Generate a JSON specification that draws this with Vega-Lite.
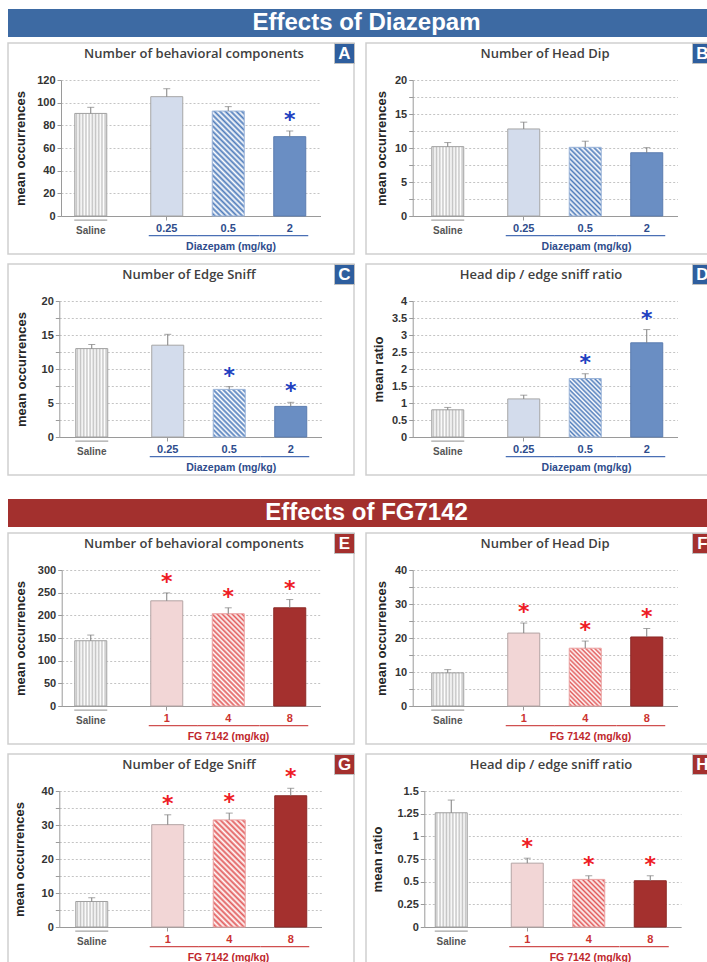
{
"$schema":"https://vega.github.io/schema/vega-lite/v6.json",
"padding":{"left":7,"top":9,"right":0,"bottom":0},
"spacing":23,
"config":{
 "view":{"stroke":"#cfcfcf","strokeWidth":1.5},
 "title":{"font":"Open Sans","fontSize":13,"fontWeight":600,"color":"#404040","offset":-19,"anchor":"middle"},
 "axis":{"domainColor":"#9a9a9a","tickColor":"#9a9a9a","tickSize":4,"labelFont":"Liberation Sans","labelFontWeight":"bold","labelFontSize":11,"titleFont":"Liberation Sans","titleFontWeight":"bold","titleBaseline":"middle"},
 "axisY":{"gridColor":"#c4c4c4","gridDash":[2,2],"labelColor":"#333333","labelPadding":2,"titleFontSize":13,"titleColor":"#262626"},
 "axisX":{"labelAngle":0,"tickOffset":-38,"titleFontSize":10.5,"titleY":30}
},
"vconcat":[
{"spacing":3,"vconcat":[
 {"width":717,"height":28,"view":{"fill":"#3d6aa3","stroke":null},"data":{"values":[{"t":"Effects of Diazepam"}]},"mark":{"type":"text","font":"Liberation Sans","fontWeight":"bold","fontSize":24,"color":"#ffffff","baseline":"middle"},"encoding":{"text":{"field":"t","type":"nominal"},"x":{"field":"t","type":"nominal","axis":null},"y":{"field":"t","type":"nominal","axis":null}}},
 {"spacing":6,"vconcat":[
  {"spacing":12,"bounds":"flush","hconcat":[
   {"width":346,"height":211,"title":{"text":"Number of behavioral components","dx":13},
    "data":{"values":[{"dose":"Saline","mean":90.5,"hi":95.9},{"dose":"0.25","mean":105.3,"hi":112.3},{"dose":"0.5","mean":92.6,"hi":96.5},{"dose":"2","mean":70,"hi":75,"sig":1}]},
    "encoding":{
     "x":{"field":"dose","type":"nominal","title":"Diazepam (mg/kg)","scale":{"domain":["Saline","0.25","0.5","2"],"range":[53,312.5],"paddingInner":0,"paddingOuter":0.1098,"align":1},
      "axis":{"offset":-38,"titleX":222.5,"titleColor":"#2e4c8c","labelColor":{"condition":{"test":"datum.value=='Saline'","value":"#555555"},"value":"#2e4c8c"},"labelFontSize":{"condition":{"test":"datum.value=='Saline'","value":10},"value":11},"labelOffset":{"condition":{"test":"datum.value=='Saline'","value":-14.5},"value":0},"labelPadding":{"condition":{"test":"datum.value=='Saline'","value":5},"value":2},"tickOpacity":{"condition":{"test":"datum.value=='0.25'","value":1},"value":0}}},
     "y":{"field":"mean","type":"quantitative","title":"mean occurrences","scale":{"domain":[0,120],"range":[173,37],"nice":false},"axis":{"offset":-53,"titleX":-41,"values":[0,20,40,60,80,100,120]}}},
    "layer":[
     {"transform":[{"filter":"datum.dose=='Saline'"}],"mark":{"type":"bar","width":32,"xOffset":-14.5,"stroke":"#a0a0a0","fill":{"gradient":"linear","x1":0,"y1":0,"x2":1,"y2":0,"stops":[{"offset":0,"color":"#fff"},{"offset":0.05,"color":"#c4c4c4"},{"offset":0.1,"color":"#fff"},{"offset":0.15,"color":"#c4c4c4"},{"offset":0.2,"color":"#fff"},{"offset":0.25,"color":"#c4c4c4"},{"offset":0.3,"color":"#fff"},{"offset":0.35,"color":"#c4c4c4"},{"offset":0.4,"color":"#fff"},{"offset":0.45,"color":"#c4c4c4"},{"offset":0.5,"color":"#fff"},{"offset":0.55,"color":"#c4c4c4"},{"offset":0.6,"color":"#fff"},{"offset":0.65,"color":"#c4c4c4"},{"offset":0.7,"color":"#fff"},{"offset":0.75,"color":"#c4c4c4"},{"offset":0.8,"color":"#fff"},{"offset":0.85,"color":"#c4c4c4"},{"offset":0.9,"color":"#fff"},{"offset":0.95,"color":"#c4c4c4"},{"offset":1,"color":"#fff"}]}}},
     {"transform":[{"filter":"datum.dose=='0.25'||datum.dose=='2'"}],"mark":{"type":"bar","width":32},"encoding":{"fill":{"condition":{"test":"datum.dose=='2'","value":"#6a8ec3"},"value":"#d3dcec"},"stroke":{"condition":{"test":"datum.dose=='2'","value":"#5b7db0"},"value":"#a6a6a6"}}},
     {"transform":[{"filter":"datum.dose=='0.5'"}],"mark":{"type":"bar","width":32,"stroke":"#9ab3d8","fill":{"gradient":"linear","x1":0,"y1":1,"x2":0.364,"y2":-0.1939,"stops":[{"offset":0,"color":"#fff"},{"offset":0.02,"color":"#4f7cbb"},{"offset":0.04,"color":"#fff"},{"offset":0.06,"color":"#4f7cbb"},{"offset":0.08,"color":"#fff"},{"offset":0.1,"color":"#4f7cbb"},{"offset":0.12,"color":"#fff"},{"offset":0.14,"color":"#4f7cbb"},{"offset":0.16,"color":"#fff"},{"offset":0.18,"color":"#4f7cbb"},{"offset":0.2,"color":"#fff"},{"offset":0.22,"color":"#4f7cbb"},{"offset":0.24,"color":"#fff"},{"offset":0.26,"color":"#4f7cbb"},{"offset":0.28,"color":"#fff"},{"offset":0.3,"color":"#4f7cbb"},{"offset":0.32,"color":"#fff"},{"offset":0.34,"color":"#4f7cbb"},{"offset":0.36,"color":"#fff"},{"offset":0.38,"color":"#4f7cbb"},{"offset":0.4,"color":"#fff"},{"offset":0.42,"color":"#4f7cbb"},{"offset":0.44,"color":"#fff"},{"offset":0.46,"color":"#4f7cbb"},{"offset":0.48,"color":"#fff"},{"offset":0.5,"color":"#4f7cbb"},{"offset":0.52,"color":"#fff"},{"offset":0.54,"color":"#4f7cbb"},{"offset":0.56,"color":"#fff"},{"offset":0.58,"color":"#4f7cbb"},{"offset":0.6,"color":"#fff"},{"offset":0.62,"color":"#4f7cbb"},{"offset":0.64,"color":"#fff"},{"offset":0.66,"color":"#4f7cbb"},{"offset":0.68,"color":"#fff"},{"offset":0.7,"color":"#4f7cbb"},{"offset":0.72,"color":"#fff"},{"offset":0.74,"color":"#4f7cbb"},{"offset":0.76,"color":"#fff"},{"offset":0.78,"color":"#4f7cbb"},{"offset":0.8,"color":"#fff"},{"offset":0.82,"color":"#4f7cbb"},{"offset":0.84,"color":"#fff"},{"offset":0.86,"color":"#4f7cbb"},{"offset":0.88,"color":"#fff"},{"offset":0.9,"color":"#4f7cbb"},{"offset":0.92,"color":"#fff"},{"offset":0.94,"color":"#4f7cbb"},{"offset":0.96,"color":"#fff"},{"offset":0.98,"color":"#4f7cbb"},{"offset":1,"color":"#fff"}]}}},
     {"mark":{"type":"rule","color":"#7f7f7f","xOffset":{"expr":"datum.dose=='Saline'?-14.5:0"}},"encoding":{"y2":{"field":"hi"}}},
     {"mark":{"type":"tick","orient":"horizontal","size":7,"thickness":1,"color":"#7f7f7f","xOffset":{"expr":"datum.dose=='Saline'?-14.5:0"}},"encoding":{"y":{"field":"hi","type":"quantitative"}}},
     {"transform":[{"filter":"datum.sig"}],"mark":{"type":"text","text":"*","font":"DejaVu Sans","fontSize":22,"fontWeight":"bold","color":"#2040c0","baseline":"alphabetic","dy":-4},"encoding":{"y":{"field":"hi","type":"quantitative"}}},
     {"transform":[{"filter":"datum.dose=='0.5'"}],"mark":{"type":"bar","width":61.5,"color":"#4a6fb5"},"encoding":{"y":{"datum":-16.77,"type":"quantitative"},"y2":{"datum":-17.82}}},
     {"transform":[{"filter":"datum.dose=='0.25'||datum.dose=='2'"}],"mark":{"type":"bar","width":49,"color":"#4a6fb5","xOffset":{"expr":"datum.dose=='2'?-6:6.5"}},"encoding":{"y":{"datum":-16.77,"type":"quantitative"},"y2":{"datum":-17.82}}},
     {"transform":[{"filter":"datum.dose=='Saline'"}],"mark":{"type":"bar","width":33,"color":"#a6a6a6","xOffset":-14.5},"encoding":{"y":{"datum":-3.18,"type":"quantitative"},"y2":{"datum":-4.24}}},
     {"data":{"values":[{}]},"layer":[
      {"mark":{"type":"point","shape":"square","size":400,"filled":true,"fill":"#2e5e9e","stroke":"#c0c0c0","strokeWidth":1,"opacity":1,"xOffset":-9.5,"yOffset":10.5},"encoding":{"x":{"value":"width"},"y":{"value":0}}},
      {"mark":{"type":"text","text":"A","font":"Liberation Sans","fontSize":17,"fontWeight":"bold","color":"#ffffff","baseline":"middle","align":"center","dx":-9.5,"dy":11},"encoding":{"x":{"value":"width"},"y":{"value":0}}}
     ]}
    ]},
   {"width":346,"height":211,"title":{"text":"Number of Head Dip","dx":6},
    "data":{"values":[{"dose":"Saline","mean":10.2,"hi":10.8},{"dose":"0.25","mean":12.8,"hi":13.8},{"dose":"0.5","mean":10.1,"hi":11.0},{"dose":"2","mean":9.3,"hi":10.05}]},
    "encoding":{
     "x":{"field":"dose","type":"nominal","title":"Diazepam (mg/kg)","scale":{"domain":["Saline","0.25","0.5","2"],"range":[46.7,311.5],"paddingInner":0,"paddingOuter":0.1528,"align":1},
      "axis":{"offset":-38,"titleX":220,"titleColor":"#2e4c8c","labelColor":{"condition":{"test":"datum.value=='Saline'","value":"#555555"},"value":"#2e4c8c"},"labelFontSize":{"condition":{"test":"datum.value=='Saline'","value":10},"value":11},"labelOffset":{"condition":{"test":"datum.value=='Saline'","value":-14.5},"value":0},"labelPadding":{"condition":{"test":"datum.value=='Saline'","value":5},"value":2},"tickOpacity":{"condition":{"test":"datum.value=='0.25'","value":1},"value":0}}},
     "y":{"field":"mean","type":"quantitative","title":"mean occurrences","scale":{"domain":[0,20],"range":[173,37],"nice":false},"axis":{"offset":-46.7,"titleX":-31.7,"values":[0,2.5,5,7.5,10,12.5,15,17.5,20],"labelExpr":"datum.value % 5 == 0 ? datum.label : ''"}}},
    "layer":[
     {"transform":[{"filter":"datum.dose=='Saline'"}],"mark":{"type":"bar","width":32,"xOffset":-14.5,"stroke":"#a0a0a0","fill":{"gradient":"linear","x1":0,"y1":0,"x2":1,"y2":0,"stops":[{"offset":0,"color":"#fff"},{"offset":0.05,"color":"#c4c4c4"},{"offset":0.1,"color":"#fff"},{"offset":0.15,"color":"#c4c4c4"},{"offset":0.2,"color":"#fff"},{"offset":0.25,"color":"#c4c4c4"},{"offset":0.3,"color":"#fff"},{"offset":0.35,"color":"#c4c4c4"},{"offset":0.4,"color":"#fff"},{"offset":0.45,"color":"#c4c4c4"},{"offset":0.5,"color":"#fff"},{"offset":0.55,"color":"#c4c4c4"},{"offset":0.6,"color":"#fff"},{"offset":0.65,"color":"#c4c4c4"},{"offset":0.7,"color":"#fff"},{"offset":0.75,"color":"#c4c4c4"},{"offset":0.8,"color":"#fff"},{"offset":0.85,"color":"#c4c4c4"},{"offset":0.9,"color":"#fff"},{"offset":0.95,"color":"#c4c4c4"},{"offset":1,"color":"#fff"}]}}},
     {"transform":[{"filter":"datum.dose=='0.25'||datum.dose=='2'"}],"mark":{"type":"bar","width":32},"encoding":{"fill":{"condition":{"test":"datum.dose=='2'","value":"#6a8ec3"},"value":"#d3dcec"},"stroke":{"condition":{"test":"datum.dose=='2'","value":"#5b7db0"},"value":"#a6a6a6"}}},
     {"transform":[{"filter":"datum.dose=='0.5'"}],"mark":{"type":"bar","width":32,"stroke":"#9ab3d8","fill":{"gradient":"linear","x1":0,"y1":1,"x2":0.5613,"y2":-0.2045,"stops":[{"offset":0,"color":"#fff"},{"offset":0.025,"color":"#4f7cbb"},{"offset":0.05,"color":"#fff"},{"offset":0.075,"color":"#4f7cbb"},{"offset":0.1,"color":"#fff"},{"offset":0.125,"color":"#4f7cbb"},{"offset":0.15,"color":"#fff"},{"offset":0.175,"color":"#4f7cbb"},{"offset":0.2,"color":"#fff"},{"offset":0.225,"color":"#4f7cbb"},{"offset":0.25,"color":"#fff"},{"offset":0.275,"color":"#4f7cbb"},{"offset":0.3,"color":"#fff"},{"offset":0.325,"color":"#4f7cbb"},{"offset":0.35,"color":"#fff"},{"offset":0.375,"color":"#4f7cbb"},{"offset":0.4,"color":"#fff"},{"offset":0.425,"color":"#4f7cbb"},{"offset":0.45,"color":"#fff"},{"offset":0.475,"color":"#4f7cbb"},{"offset":0.5,"color":"#fff"},{"offset":0.525,"color":"#4f7cbb"},{"offset":0.55,"color":"#fff"},{"offset":0.575,"color":"#4f7cbb"},{"offset":0.6,"color":"#fff"},{"offset":0.625,"color":"#4f7cbb"},{"offset":0.65,"color":"#fff"},{"offset":0.675,"color":"#4f7cbb"},{"offset":0.7,"color":"#fff"},{"offset":0.725,"color":"#4f7cbb"},{"offset":0.75,"color":"#fff"},{"offset":0.775,"color":"#4f7cbb"},{"offset":0.8,"color":"#fff"},{"offset":0.825,"color":"#4f7cbb"},{"offset":0.85,"color":"#fff"},{"offset":0.875,"color":"#4f7cbb"},{"offset":0.9,"color":"#fff"},{"offset":0.925,"color":"#4f7cbb"},{"offset":0.95,"color":"#fff"},{"offset":0.975,"color":"#4f7cbb"},{"offset":1,"color":"#fff"}]}}},
     {"mark":{"type":"rule","color":"#7f7f7f","xOffset":{"expr":"datum.dose=='Saline'?-14.5:0"}},"encoding":{"y2":{"field":"hi"}}},
     {"mark":{"type":"tick","orient":"horizontal","size":7,"thickness":1,"color":"#7f7f7f","xOffset":{"expr":"datum.dose=='Saline'?-14.5:0"}},"encoding":{"y":{"field":"hi","type":"quantitative"}}},
     {"transform":[{"filter":"datum.dose=='0.5'"}],"mark":{"type":"bar","width":61.5,"color":"#4a6fb5"},"encoding":{"y":{"datum":-2.794,"type":"quantitative"},"y2":{"datum":-2.97}}},
     {"transform":[{"filter":"datum.dose=='0.25'||datum.dose=='2'"}],"mark":{"type":"bar","width":49,"color":"#4a6fb5","xOffset":{"expr":"datum.dose=='2'?-6:6.5"}},"encoding":{"y":{"datum":-2.794,"type":"quantitative"},"y2":{"datum":-2.97}}},
     {"transform":[{"filter":"datum.dose=='Saline'"}],"mark":{"type":"bar","width":33,"color":"#a6a6a6","xOffset":-14.5},"encoding":{"y":{"datum":-0.529,"type":"quantitative"},"y2":{"datum":-0.706}}},
     {"data":{"values":[{}]},"layer":[
      {"mark":{"type":"point","shape":"square","size":400,"filled":true,"fill":"#2e5e9e","stroke":"#c0c0c0","strokeWidth":1,"opacity":1,"xOffset":-9.5,"yOffset":10.5},"encoding":{"x":{"value":"width"},"y":{"value":0}}},
      {"mark":{"type":"text","text":"B","font":"Liberation Sans","fontSize":17,"fontWeight":"bold","color":"#ffffff","baseline":"middle","align":"center","dx":-9.5,"dy":11},"encoding":{"x":{"value":"width"},"y":{"value":0}}}
     ]}
    ]}
  ]},
  {"spacing":12,"bounds":"flush","hconcat":[
   {"width":346,"height":211,"title":{"text":"Number of Edge Sniff","dx":8},
    "data":{"values":[{"dose":"Saline","mean":13.0,"hi":13.6},{"dose":"0.25","mean":13.5,"hi":15.1},{"dose":"0.5","mean":7.0,"hi":7.4,"sig":1},{"dose":"2","mean":4.5,"hi":5.1,"sig":1}]},
    "encoding":{
     "x":{"field":"dose","type":"nominal","title":"Diazepam (mg/kg)","scale":{"domain":["Saline","0.25","0.5","2"],"range":[51.3,313.5],"paddingInner":0,"paddingOuter":0.1317,"align":1},
      "axis":{"offset":-38,"titleX":222.7,"titleColor":"#2e4c8c","labelColor":{"condition":{"test":"datum.value=='Saline'","value":"#555555"},"value":"#2e4c8c"},"labelFontSize":{"condition":{"test":"datum.value=='Saline'","value":10},"value":11},"labelOffset":{"condition":{"test":"datum.value=='Saline'","value":-14.5},"value":0},"labelPadding":{"condition":{"test":"datum.value=='Saline'","value":5},"value":2},"tickOpacity":{"condition":{"test":"datum.value=='0.25'","value":1},"value":0}}},
     "y":{"field":"mean","type":"quantitative","title":"mean occurrences","scale":{"domain":[0,20],"range":[173,37],"nice":false},"axis":{"offset":-51.3,"titleX":-38.3,"values":[0,2.5,5,7.5,10,12.5,15,17.5,20],"labelExpr":"datum.value % 5 == 0 ? datum.label : ''"}}},
    "layer":[
     {"transform":[{"filter":"datum.dose=='Saline'"}],"mark":{"type":"bar","width":32,"xOffset":-14.5,"stroke":"#a0a0a0","fill":{"gradient":"linear","x1":0,"y1":0,"x2":1,"y2":0,"stops":[{"offset":0,"color":"#fff"},{"offset":0.05,"color":"#c4c4c4"},{"offset":0.1,"color":"#fff"},{"offset":0.15,"color":"#c4c4c4"},{"offset":0.2,"color":"#fff"},{"offset":0.25,"color":"#c4c4c4"},{"offset":0.3,"color":"#fff"},{"offset":0.35,"color":"#c4c4c4"},{"offset":0.4,"color":"#fff"},{"offset":0.45,"color":"#c4c4c4"},{"offset":0.5,"color":"#fff"},{"offset":0.55,"color":"#c4c4c4"},{"offset":0.6,"color":"#fff"},{"offset":0.65,"color":"#c4c4c4"},{"offset":0.7,"color":"#fff"},{"offset":0.75,"color":"#c4c4c4"},{"offset":0.8,"color":"#fff"},{"offset":0.85,"color":"#c4c4c4"},{"offset":0.9,"color":"#fff"},{"offset":0.95,"color":"#c4c4c4"},{"offset":1,"color":"#fff"}]}}},
     {"transform":[{"filter":"datum.dose=='0.25'||datum.dose=='2'"}],"mark":{"type":"bar","width":32},"encoding":{"fill":{"condition":{"test":"datum.dose=='2'","value":"#6a8ec3"},"value":"#d3dcec"},"stroke":{"condition":{"test":"datum.dose=='2'","value":"#5b7db0"},"value":"#a6a6a6"}}},
     {"transform":[{"filter":"datum.dose=='0.5'"}],"mark":{"type":"bar","width":32,"stroke":"#9ab3d8","fill":{"gradient":"linear","x1":0,"y1":1,"x2":0.7743,"y2":-0.1518,"stops":[{"offset":0,"color":"#fff"},{"offset":0.03125,"color":"#4f7cbb"},{"offset":0.0625,"color":"#fff"},{"offset":0.09375,"color":"#4f7cbb"},{"offset":0.125,"color":"#fff"},{"offset":0.15625,"color":"#4f7cbb"},{"offset":0.1875,"color":"#fff"},{"offset":0.21875,"color":"#4f7cbb"},{"offset":0.25,"color":"#fff"},{"offset":0.28125,"color":"#4f7cbb"},{"offset":0.3125,"color":"#fff"},{"offset":0.34375,"color":"#4f7cbb"},{"offset":0.375,"color":"#fff"},{"offset":0.40625,"color":"#4f7cbb"},{"offset":0.4375,"color":"#fff"},{"offset":0.46875,"color":"#4f7cbb"},{"offset":0.5,"color":"#fff"},{"offset":0.53125,"color":"#4f7cbb"},{"offset":0.5625,"color":"#fff"},{"offset":0.59375,"color":"#4f7cbb"},{"offset":0.625,"color":"#fff"},{"offset":0.65625,"color":"#4f7cbb"},{"offset":0.6875,"color":"#fff"},{"offset":0.71875,"color":"#4f7cbb"},{"offset":0.75,"color":"#fff"},{"offset":0.78125,"color":"#4f7cbb"},{"offset":0.8125,"color":"#fff"},{"offset":0.84375,"color":"#4f7cbb"},{"offset":0.875,"color":"#fff"},{"offset":0.90625,"color":"#4f7cbb"},{"offset":0.9375,"color":"#fff"},{"offset":0.96875,"color":"#4f7cbb"},{"offset":1,"color":"#fff"}]}}},
     {"mark":{"type":"rule","color":"#7f7f7f","xOffset":{"expr":"datum.dose=='Saline'?-14.5:0"}},"encoding":{"y2":{"field":"hi"}}},
     {"mark":{"type":"tick","orient":"horizontal","size":7,"thickness":1,"color":"#7f7f7f","xOffset":{"expr":"datum.dose=='Saline'?-14.5:0"}},"encoding":{"y":{"field":"hi","type":"quantitative"}}},
     {"transform":[{"filter":"datum.sig"}],"mark":{"type":"text","text":"*","font":"DejaVu Sans","fontSize":22,"fontWeight":"bold","color":"#2040c0","baseline":"alphabetic","dy":-4},"encoding":{"y":{"field":"hi","type":"quantitative"}}},
     {"transform":[{"filter":"datum.dose=='0.5'"}],"mark":{"type":"bar","width":61.5,"color":"#4a6fb5"},"encoding":{"y":{"datum":-2.794,"type":"quantitative"},"y2":{"datum":-2.97}}},
     {"transform":[{"filter":"datum.dose=='0.25'||datum.dose=='2'"}],"mark":{"type":"bar","width":49,"color":"#4a6fb5","xOffset":{"expr":"datum.dose=='2'?-6:6.5"}},"encoding":{"y":{"datum":-2.794,"type":"quantitative"},"y2":{"datum":-2.97}}},
     {"transform":[{"filter":"datum.dose=='Saline'"}],"mark":{"type":"bar","width":33,"color":"#a6a6a6","xOffset":-14.5},"encoding":{"y":{"datum":-0.529,"type":"quantitative"},"y2":{"datum":-0.706}}},
     {"data":{"values":[{}]},"layer":[
      {"mark":{"type":"point","shape":"square","size":400,"filled":true,"fill":"#2e5e9e","stroke":"#c0c0c0","strokeWidth":1,"opacity":1,"xOffset":-9.5,"yOffset":10.5},"encoding":{"x":{"value":"width"},"y":{"value":0}}},
      {"mark":{"type":"text","text":"C","font":"Liberation Sans","fontSize":17,"fontWeight":"bold","color":"#ffffff","baseline":"middle","align":"center","dx":-9.5,"dy":11},"encoding":{"x":{"value":"width"},"y":{"value":0}}}
     ]}
    ]},
   {"width":346,"height":211,"title":{"text":"Head dip / edge sniff  ratio","dx":2},
    "data":{"values":[{"dose":"Saline","mean":0.8,"hi":0.87},{"dose":"0.25","mean":1.12,"hi":1.23},{"dose":"0.5","mean":1.72,"hi":1.86,"sig":1},{"dose":"2","mean":2.77,"hi":3.16,"sig":1}]},
    "encoding":{
     "x":{"field":"dose","type":"nominal","title":"Diazepam (mg/kg)","scale":{"domain":["Saline","0.25","0.5","2"],"range":[46.7,311.5],"paddingInner":0,"paddingOuter":0.1528,"align":1},
      "axis":{"offset":-38,"titleX":220,"titleColor":"#2e4c8c","labelColor":{"condition":{"test":"datum.value=='Saline'","value":"#555555"},"value":"#2e4c8c"},"labelFontSize":{"condition":{"test":"datum.value=='Saline'","value":10},"value":11},"labelOffset":{"condition":{"test":"datum.value=='Saline'","value":-14.5},"value":0},"labelPadding":{"condition":{"test":"datum.value=='Saline'","value":5},"value":2},"tickOpacity":{"condition":{"test":"datum.value=='0.25'","value":1},"value":0}}},
     "y":{"field":"mean","type":"quantitative","title":"mean ratio","scale":{"domain":[0,4],"range":[173,37],"nice":false},"axis":{"offset":-46.7,"titleX":-34.7,"labelExpr":"'' + datum.value","values":[0,0.5,1,1.5,2,2.5,3,3.5,4]}}},
    "layer":[
     {"transform":[{"filter":"datum.dose=='Saline'"}],"mark":{"type":"bar","width":32,"xOffset":-14.5,"stroke":"#a0a0a0","fill":{"gradient":"linear","x1":0,"y1":0,"x2":1,"y2":0,"stops":[{"offset":0,"color":"#fff"},{"offset":0.05,"color":"#c4c4c4"},{"offset":0.1,"color":"#fff"},{"offset":0.15,"color":"#c4c4c4"},{"offset":0.2,"color":"#fff"},{"offset":0.25,"color":"#c4c4c4"},{"offset":0.3,"color":"#fff"},{"offset":0.35,"color":"#c4c4c4"},{"offset":0.4,"color":"#fff"},{"offset":0.45,"color":"#c4c4c4"},{"offset":0.5,"color":"#fff"},{"offset":0.55,"color":"#c4c4c4"},{"offset":0.6,"color":"#fff"},{"offset":0.65,"color":"#c4c4c4"},{"offset":0.7,"color":"#fff"},{"offset":0.75,"color":"#c4c4c4"},{"offset":0.8,"color":"#fff"},{"offset":0.85,"color":"#c4c4c4"},{"offset":0.9,"color":"#fff"},{"offset":0.95,"color":"#c4c4c4"},{"offset":1,"color":"#fff"}]}}},
     {"transform":[{"filter":"datum.dose=='0.25'||datum.dose=='2'"}],"mark":{"type":"bar","width":32},"encoding":{"fill":{"condition":{"test":"datum.dose=='2'","value":"#6a8ec3"},"value":"#d3dcec"},"stroke":{"condition":{"test":"datum.dose=='2'","value":"#5b7db0"},"value":"#a6a6a6"}}},
     {"transform":[{"filter":"datum.dose=='0.5'"}],"mark":{"type":"bar","width":32,"stroke":"#9ab3d8","fill":{"gradient":"linear","x1":0,"y1":1,"x2":0.6515,"y2":-0.1906,"stops":[{"offset":0,"color":"#fff"},{"offset":0.025,"color":"#4f7cbb"},{"offset":0.05,"color":"#fff"},{"offset":0.075,"color":"#4f7cbb"},{"offset":0.1,"color":"#fff"},{"offset":0.125,"color":"#4f7cbb"},{"offset":0.15,"color":"#fff"},{"offset":0.175,"color":"#4f7cbb"},{"offset":0.2,"color":"#fff"},{"offset":0.225,"color":"#4f7cbb"},{"offset":0.25,"color":"#fff"},{"offset":0.275,"color":"#4f7cbb"},{"offset":0.3,"color":"#fff"},{"offset":0.325,"color":"#4f7cbb"},{"offset":0.35,"color":"#fff"},{"offset":0.375,"color":"#4f7cbb"},{"offset":0.4,"color":"#fff"},{"offset":0.425,"color":"#4f7cbb"},{"offset":0.45,"color":"#fff"},{"offset":0.475,"color":"#4f7cbb"},{"offset":0.5,"color":"#fff"},{"offset":0.525,"color":"#4f7cbb"},{"offset":0.55,"color":"#fff"},{"offset":0.575,"color":"#4f7cbb"},{"offset":0.6,"color":"#fff"},{"offset":0.625,"color":"#4f7cbb"},{"offset":0.65,"color":"#fff"},{"offset":0.675,"color":"#4f7cbb"},{"offset":0.7,"color":"#fff"},{"offset":0.725,"color":"#4f7cbb"},{"offset":0.75,"color":"#fff"},{"offset":0.775,"color":"#4f7cbb"},{"offset":0.8,"color":"#fff"},{"offset":0.825,"color":"#4f7cbb"},{"offset":0.85,"color":"#fff"},{"offset":0.875,"color":"#4f7cbb"},{"offset":0.9,"color":"#fff"},{"offset":0.925,"color":"#4f7cbb"},{"offset":0.95,"color":"#fff"},{"offset":0.975,"color":"#4f7cbb"},{"offset":1,"color":"#fff"}]}}},
     {"mark":{"type":"rule","color":"#7f7f7f","xOffset":{"expr":"datum.dose=='Saline'?-14.5:0"}},"encoding":{"y2":{"field":"hi"}}},
     {"mark":{"type":"tick","orient":"horizontal","size":7,"thickness":1,"color":"#7f7f7f","xOffset":{"expr":"datum.dose=='Saline'?-14.5:0"}},"encoding":{"y":{"field":"hi","type":"quantitative"}}},
     {"transform":[{"filter":"datum.sig"}],"mark":{"type":"text","text":"*","font":"DejaVu Sans","fontSize":22,"fontWeight":"bold","color":"#2040c0","baseline":"alphabetic","dy":-4},"encoding":{"y":{"field":"hi","type":"quantitative"}}},
     {"transform":[{"filter":"datum.dose=='0.5'"}],"mark":{"type":"bar","width":61.5,"color":"#4a6fb5"},"encoding":{"y":{"datum":-0.5588,"type":"quantitative"},"y2":{"datum":-0.594}}},
     {"transform":[{"filter":"datum.dose=='0.25'||datum.dose=='2'"}],"mark":{"type":"bar","width":49,"color":"#4a6fb5","xOffset":{"expr":"datum.dose=='2'?-6:6.5"}},"encoding":{"y":{"datum":-0.5588,"type":"quantitative"},"y2":{"datum":-0.594}}},
     {"transform":[{"filter":"datum.dose=='Saline'"}],"mark":{"type":"bar","width":33,"color":"#a6a6a6","xOffset":-14.5},"encoding":{"y":{"datum":-0.106,"type":"quantitative"},"y2":{"datum":-0.141}}},
     {"data":{"values":[{}]},"layer":[
      {"mark":{"type":"point","shape":"square","size":400,"filled":true,"fill":"#2e5e9e","stroke":"#c0c0c0","strokeWidth":1,"opacity":1,"xOffset":-9.5,"yOffset":10.5},"encoding":{"x":{"value":"width"},"y":{"value":0}}},
      {"mark":{"type":"text","text":"D","font":"Liberation Sans","fontSize":17,"fontWeight":"bold","color":"#ffffff","baseline":"middle","align":"center","dx":-9.5,"dy":11},"encoding":{"x":{"value":"width"},"y":{"value":0}}}
     ]}
    ]}
  ]}
 ]}
]},
{"spacing":3,"vconcat":[
 {"width":717,"height":28,"view":{"fill":"#a3302e","stroke":null},"data":{"values":[{"t":"Effects of FG7142"}]},"mark":{"type":"text","font":"Liberation Sans","fontWeight":"bold","fontSize":24,"color":"#ffffff","baseline":"middle"},"encoding":{"text":{"field":"t","type":"nominal"},"x":{"field":"t","type":"nominal","axis":null},"y":{"field":"t","type":"nominal","axis":null}}},
 {"spacing":6,"vconcat":[
  {"spacing":12,"bounds":"flush","hconcat":[
   {"width":346,"height":211,"title":{"text":"Number of behavioral components","dx":13},
    "data":{"values":[{"dose":"Saline","mean":144,"hi":156.5},{"dose":"1","mean":232,"hi":249.5,"sig":1},{"dose":"4","mean":203.5,"hi":216.6,"sig":1},{"dose":"8","mean":216.6,"hi":234.8,"sig":1}]},
    "encoding":{
     "x":{"field":"dose","type":"nominal","title":"FG 7142 (mg/kg)","scale":{"domain":["Saline","1","4","8"],"range":[53.7,312.5],"paddingInner":0,"paddingOuter":0.1041,"align":1},
      "axis":{"offset":-38,"titleX":220,"titleColor":"#c0282d","labelColor":{"condition":{"test":"datum.value=='Saline'","value":"#555555"},"value":"#cc3330"},"labelFontSize":{"condition":{"test":"datum.value=='Saline'","value":10},"value":11},"labelOffset":{"condition":{"test":"datum.value=='Saline'","value":-14.5},"value":0},"labelPadding":{"condition":{"test":"datum.value=='Saline'","value":5},"value":2},"tickOpacity":{"condition":{"test":"datum.value=='1'","value":1},"value":0}}},
     "y":{"field":"mean","type":"quantitative","title":"mean occurrences","scale":{"domain":[0,300],"range":[173,37],"nice":false},"axis":{"offset":-53.7,"titleX":-41.7,"values":[0,50,100,150,200,250,300]}}},
    "layer":[
     {"transform":[{"filter":"datum.dose=='Saline'"}],"mark":{"type":"bar","width":32,"xOffset":-14.5,"stroke":"#a0a0a0","fill":{"gradient":"linear","x1":0,"y1":0,"x2":1,"y2":0,"stops":[{"offset":0,"color":"#fff"},{"offset":0.05,"color":"#c4c4c4"},{"offset":0.1,"color":"#fff"},{"offset":0.15,"color":"#c4c4c4"},{"offset":0.2,"color":"#fff"},{"offset":0.25,"color":"#c4c4c4"},{"offset":0.3,"color":"#fff"},{"offset":0.35,"color":"#c4c4c4"},{"offset":0.4,"color":"#fff"},{"offset":0.45,"color":"#c4c4c4"},{"offset":0.5,"color":"#fff"},{"offset":0.55,"color":"#c4c4c4"},{"offset":0.6,"color":"#fff"},{"offset":0.65,"color":"#c4c4c4"},{"offset":0.7,"color":"#fff"},{"offset":0.75,"color":"#c4c4c4"},{"offset":0.8,"color":"#fff"},{"offset":0.85,"color":"#c4c4c4"},{"offset":0.9,"color":"#fff"},{"offset":0.95,"color":"#c4c4c4"},{"offset":1,"color":"#fff"}]}}},
     {"transform":[{"filter":"datum.dose=='1'||datum.dose=='8'"}],"mark":{"type":"bar","width":32},"encoding":{"fill":{"condition":{"test":"datum.dose=='8'","value":"#a4302e"},"value":"#f2d6d6"},"stroke":{"condition":{"test":"datum.dose=='8'","value":"#8c2826"},"value":"#b4a4a4"}}},
     {"transform":[{"filter":"datum.dose=='4'"}],"mark":{"type":"bar","width":32,"stroke":"#eaa0a0","fill":{"gradient":"linear","x1":0,"y1":1,"x2":0.417,"y2":-0.2022,"stops":[{"offset":0,"color":"#fff"},{"offset":0.02,"color":"#e25b5b"},{"offset":0.04,"color":"#fff"},{"offset":0.06,"color":"#e25b5b"},{"offset":0.08,"color":"#fff"},{"offset":0.1,"color":"#e25b5b"},{"offset":0.12,"color":"#fff"},{"offset":0.14,"color":"#e25b5b"},{"offset":0.16,"color":"#fff"},{"offset":0.18,"color":"#e25b5b"},{"offset":0.2,"color":"#fff"},{"offset":0.22,"color":"#e25b5b"},{"offset":0.24,"color":"#fff"},{"offset":0.26,"color":"#e25b5b"},{"offset":0.28,"color":"#fff"},{"offset":0.3,"color":"#e25b5b"},{"offset":0.32,"color":"#fff"},{"offset":0.34,"color":"#e25b5b"},{"offset":0.36,"color":"#fff"},{"offset":0.38,"color":"#e25b5b"},{"offset":0.4,"color":"#fff"},{"offset":0.42,"color":"#e25b5b"},{"offset":0.44,"color":"#fff"},{"offset":0.46,"color":"#e25b5b"},{"offset":0.48,"color":"#fff"},{"offset":0.5,"color":"#e25b5b"},{"offset":0.52,"color":"#fff"},{"offset":0.54,"color":"#e25b5b"},{"offset":0.56,"color":"#fff"},{"offset":0.58,"color":"#e25b5b"},{"offset":0.6,"color":"#fff"},{"offset":0.62,"color":"#e25b5b"},{"offset":0.64,"color":"#fff"},{"offset":0.66,"color":"#e25b5b"},{"offset":0.68,"color":"#fff"},{"offset":0.7,"color":"#e25b5b"},{"offset":0.72,"color":"#fff"},{"offset":0.74,"color":"#e25b5b"},{"offset":0.76,"color":"#fff"},{"offset":0.78,"color":"#e25b5b"},{"offset":0.8,"color":"#fff"},{"offset":0.82,"color":"#e25b5b"},{"offset":0.84,"color":"#fff"},{"offset":0.86,"color":"#e25b5b"},{"offset":0.88,"color":"#fff"},{"offset":0.9,"color":"#e25b5b"},{"offset":0.92,"color":"#fff"},{"offset":0.94,"color":"#e25b5b"},{"offset":0.96,"color":"#fff"},{"offset":0.98,"color":"#e25b5b"},{"offset":1,"color":"#fff"}]}}},
     {"mark":{"type":"rule","color":"#7f7f7f","xOffset":{"expr":"datum.dose=='Saline'?-14.5:0"}},"encoding":{"y2":{"field":"hi"}}},
     {"mark":{"type":"tick","orient":"horizontal","size":7,"thickness":1,"color":"#7f7f7f","xOffset":{"expr":"datum.dose=='Saline'?-14.5:0"}},"encoding":{"y":{"field":"hi","type":"quantitative"}}},
     {"transform":[{"filter":"datum.sig"}],"mark":{"type":"text","text":"*","font":"DejaVu Sans","fontSize":22,"fontWeight":"bold","color":"#ee1c25","baseline":"alphabetic","dy":-4},"encoding":{"y":{"field":"hi","type":"quantitative"}}},
     {"transform":[{"filter":"datum.dose=='4'"}],"mark":{"type":"bar","width":61.5,"color":"#d05050"},"encoding":{"y":{"datum":-41.91,"type":"quantitative"},"y2":{"datum":-44.56}}},
     {"transform":[{"filter":"datum.dose=='1'||datum.dose=='8'"}],"mark":{"type":"bar","width":49,"color":"#d05050","xOffset":{"expr":"datum.dose=='8'?-6:6.5"}},"encoding":{"y":{"datum":-41.91,"type":"quantitative"},"y2":{"datum":-44.56}}},
     {"transform":[{"filter":"datum.dose=='Saline'"}],"mark":{"type":"bar","width":33,"color":"#a6a6a6","xOffset":-14.5},"encoding":{"y":{"datum":-7.94,"type":"quantitative"},"y2":{"datum":-10.59}}},
     {"data":{"values":[{}]},"layer":[
      {"mark":{"type":"point","shape":"square","size":400,"filled":true,"fill":"#a4302e","stroke":"#c0c0c0","strokeWidth":1,"opacity":1,"xOffset":-9.5,"yOffset":10.5},"encoding":{"x":{"value":"width"},"y":{"value":0}}},
      {"mark":{"type":"text","text":"E","font":"Liberation Sans","fontSize":17,"fontWeight":"bold","color":"#ffffff","baseline":"middle","align":"center","dx":-9.5,"dy":11},"encoding":{"x":{"value":"width"},"y":{"value":0}}}
     ]}
    ]},
   {"width":346,"height":211,"title":{"text":"Number of Head Dip","dx":6},
    "data":{"values":[{"dose":"Saline","mean":9.75,"hi":10.7},{"dose":"1","mean":21.45,"hi":24.4,"sig":1},{"dose":"4","mean":17.0,"hi":19.1,"sig":1},{"dose":"8","mean":20.3,"hi":22.8,"sig":1}]},
    "encoding":{
     "x":{"field":"dose","type":"nominal","title":"FG 7142 (mg/kg)","scale":{"domain":["Saline","1","4","8"],"range":[46.7,311.5],"paddingInner":0,"paddingOuter":0.1528,"align":1},
      "axis":{"offset":-38,"titleX":224,"titleColor":"#c0282d","labelColor":{"condition":{"test":"datum.value=='Saline'","value":"#555555"},"value":"#cc3330"},"labelFontSize":{"condition":{"test":"datum.value=='Saline'","value":10},"value":11},"labelOffset":{"condition":{"test":"datum.value=='Saline'","value":-14.5},"value":0},"labelPadding":{"condition":{"test":"datum.value=='Saline'","value":5},"value":2},"tickOpacity":{"condition":{"test":"datum.value=='1'","value":1},"value":0}}},
     "y":{"field":"mean","type":"quantitative","title":"mean occurrences","scale":{"domain":[0,40],"range":[173,37],"nice":false},"axis":{"offset":-46.7,"titleX":-31.7,"values":[0,5,10,15,20,25,30,35,40],"labelExpr":"datum.value % 10 == 0 ? datum.label : ''"}}},
    "layer":[
     {"transform":[{"filter":"datum.dose=='Saline'"}],"mark":{"type":"bar","width":32,"xOffset":-14.5,"stroke":"#a0a0a0","fill":{"gradient":"linear","x1":0,"y1":0,"x2":1,"y2":0,"stops":[{"offset":0,"color":"#fff"},{"offset":0.05,"color":"#c4c4c4"},{"offset":0.1,"color":"#fff"},{"offset":0.15,"color":"#c4c4c4"},{"offset":0.2,"color":"#fff"},{"offset":0.25,"color":"#c4c4c4"},{"offset":0.3,"color":"#fff"},{"offset":0.35,"color":"#c4c4c4"},{"offset":0.4,"color":"#fff"},{"offset":0.45,"color":"#c4c4c4"},{"offset":0.5,"color":"#fff"},{"offset":0.55,"color":"#c4c4c4"},{"offset":0.6,"color":"#fff"},{"offset":0.65,"color":"#c4c4c4"},{"offset":0.7,"color":"#fff"},{"offset":0.75,"color":"#c4c4c4"},{"offset":0.8,"color":"#fff"},{"offset":0.85,"color":"#c4c4c4"},{"offset":0.9,"color":"#fff"},{"offset":0.95,"color":"#c4c4c4"},{"offset":1,"color":"#fff"}]}}},
     {"transform":[{"filter":"datum.dose=='1'||datum.dose=='8'"}],"mark":{"type":"bar","width":32},"encoding":{"fill":{"condition":{"test":"datum.dose=='8'","value":"#a4302e"},"value":"#f2d6d6"},"stroke":{"condition":{"test":"datum.dose=='8'","value":"#8c2826"},"value":"#b4a4a4"}}},
     {"transform":[{"filter":"datum.dose=='4'"}],"mark":{"type":"bar","width":32,"stroke":"#eaa0a0","fill":{"gradient":"linear","x1":0,"y1":1,"x2":0.6584,"y2":-0.1891,"stops":[{"offset":0,"color":"#fff"},{"offset":0.025,"color":"#e25b5b"},{"offset":0.05,"color":"#fff"},{"offset":0.075,"color":"#e25b5b"},{"offset":0.1,"color":"#fff"},{"offset":0.125,"color":"#e25b5b"},{"offset":0.15,"color":"#fff"},{"offset":0.175,"color":"#e25b5b"},{"offset":0.2,"color":"#fff"},{"offset":0.225,"color":"#e25b5b"},{"offset":0.25,"color":"#fff"},{"offset":0.275,"color":"#e25b5b"},{"offset":0.3,"color":"#fff"},{"offset":0.325,"color":"#e25b5b"},{"offset":0.35,"color":"#fff"},{"offset":0.375,"color":"#e25b5b"},{"offset":0.4,"color":"#fff"},{"offset":0.425,"color":"#e25b5b"},{"offset":0.45,"color":"#fff"},{"offset":0.475,"color":"#e25b5b"},{"offset":0.5,"color":"#fff"},{"offset":0.525,"color":"#e25b5b"},{"offset":0.55,"color":"#fff"},{"offset":0.575,"color":"#e25b5b"},{"offset":0.6,"color":"#fff"},{"offset":0.625,"color":"#e25b5b"},{"offset":0.65,"color":"#fff"},{"offset":0.675,"color":"#e25b5b"},{"offset":0.7,"color":"#fff"},{"offset":0.725,"color":"#e25b5b"},{"offset":0.75,"color":"#fff"},{"offset":0.775,"color":"#e25b5b"},{"offset":0.8,"color":"#fff"},{"offset":0.825,"color":"#e25b5b"},{"offset":0.85,"color":"#fff"},{"offset":0.875,"color":"#e25b5b"},{"offset":0.9,"color":"#fff"},{"offset":0.925,"color":"#e25b5b"},{"offset":0.95,"color":"#fff"},{"offset":0.975,"color":"#e25b5b"},{"offset":1,"color":"#fff"}]}}},
     {"mark":{"type":"rule","color":"#7f7f7f","xOffset":{"expr":"datum.dose=='Saline'?-14.5:0"}},"encoding":{"y2":{"field":"hi"}}},
     {"mark":{"type":"tick","orient":"horizontal","size":7,"thickness":1,"color":"#7f7f7f","xOffset":{"expr":"datum.dose=='Saline'?-14.5:0"}},"encoding":{"y":{"field":"hi","type":"quantitative"}}},
     {"transform":[{"filter":"datum.sig"}],"mark":{"type":"text","text":"*","font":"DejaVu Sans","fontSize":22,"fontWeight":"bold","color":"#ee1c25","baseline":"alphabetic","dy":-4},"encoding":{"y":{"field":"hi","type":"quantitative"}}},
     {"transform":[{"filter":"datum.dose=='4'"}],"mark":{"type":"bar","width":61.5,"color":"#d05050"},"encoding":{"y":{"datum":-5.588,"type":"quantitative"},"y2":{"datum":-5.94}}},
     {"transform":[{"filter":"datum.dose=='1'||datum.dose=='8'"}],"mark":{"type":"bar","width":49,"color":"#d05050","xOffset":{"expr":"datum.dose=='8'?-6:6.5"}},"encoding":{"y":{"datum":-5.588,"type":"quantitative"},"y2":{"datum":-5.94}}},
     {"transform":[{"filter":"datum.dose=='Saline'"}],"mark":{"type":"bar","width":33,"color":"#a6a6a6","xOffset":-14.5},"encoding":{"y":{"datum":-1.059,"type":"quantitative"},"y2":{"datum":-1.412}}},
     {"data":{"values":[{}]},"layer":[
      {"mark":{"type":"point","shape":"square","size":400,"filled":true,"fill":"#a4302e","stroke":"#c0c0c0","strokeWidth":1,"opacity":1,"xOffset":-9.5,"yOffset":10.5},"encoding":{"x":{"value":"width"},"y":{"value":0}}},
      {"mark":{"type":"text","text":"F","font":"Liberation Sans","fontSize":17,"fontWeight":"bold","color":"#ffffff","baseline":"middle","align":"center","dx":-9.5,"dy":11},"encoding":{"x":{"value":"width"},"y":{"value":0}}}
     ]}
    ]}
  ]},
  {"spacing":12,"bounds":"flush","hconcat":[
   {"width":346,"height":211,"title":{"text":"Number of Edge Sniff","dx":8},
    "data":{"values":[{"dose":"Saline","mean":7.5,"hi":8.6},{"dose":"1","mean":30.1,"hi":33.0,"sig":1},{"dose":"4","mean":31.5,"hi":33.5,"sig":1},{"dose":"8","mean":38.6,"hi":40.8,"sig":1}]},
    "encoding":{
     "x":{"field":"dose","type":"nominal","title":"FG 7142 (mg/kg)","scale":{"domain":["Saline","1","4","8"],"range":[51.3,313.5],"paddingInner":0,"paddingOuter":0.1317,"align":1},
      "axis":{"offset":-38,"titleX":220,"titleColor":"#c0282d","labelColor":{"condition":{"test":"datum.value=='Saline'","value":"#555555"},"value":"#cc3330"},"labelFontSize":{"condition":{"test":"datum.value=='Saline'","value":10},"value":11},"labelOffset":{"condition":{"test":"datum.value=='Saline'","value":-14.5},"value":0},"labelPadding":{"condition":{"test":"datum.value=='Saline'","value":5},"value":2},"tickOpacity":{"condition":{"test":"datum.value=='1'","value":1},"value":0}}},
     "y":{"field":"mean","type":"quantitative","title":"mean occurrences","scale":{"domain":[0,40],"range":[173,37],"nice":false},"axis":{"offset":-51.3,"titleX":-40,"values":[0,5,10,15,20,25,30,35,40],"labelExpr":"datum.value % 10 == 0 ? datum.label : ''"}}},
    "layer":[
     {"transform":[{"filter":"datum.dose=='Saline'"}],"mark":{"type":"bar","width":32,"xOffset":-14.5,"stroke":"#a0a0a0","fill":{"gradient":"linear","x1":0,"y1":0,"x2":1,"y2":0,"stops":[{"offset":0,"color":"#fff"},{"offset":0.05,"color":"#c4c4c4"},{"offset":0.1,"color":"#fff"},{"offset":0.15,"color":"#c4c4c4"},{"offset":0.2,"color":"#fff"},{"offset":0.25,"color":"#c4c4c4"},{"offset":0.3,"color":"#fff"},{"offset":0.35,"color":"#c4c4c4"},{"offset":0.4,"color":"#fff"},{"offset":0.45,"color":"#c4c4c4"},{"offset":0.5,"color":"#fff"},{"offset":0.55,"color":"#c4c4c4"},{"offset":0.6,"color":"#fff"},{"offset":0.65,"color":"#c4c4c4"},{"offset":0.7,"color":"#fff"},{"offset":0.75,"color":"#c4c4c4"},{"offset":0.8,"color":"#fff"},{"offset":0.85,"color":"#c4c4c4"},{"offset":0.9,"color":"#fff"},{"offset":0.95,"color":"#c4c4c4"},{"offset":1,"color":"#fff"}]}}},
     {"transform":[{"filter":"datum.dose=='1'||datum.dose=='8'"}],"mark":{"type":"bar","width":32},"encoding":{"fill":{"condition":{"test":"datum.dose=='8'","value":"#a4302e"},"value":"#f2d6d6"},"stroke":{"condition":{"test":"datum.dose=='8'","value":"#8c2826"},"value":"#b4a4a4"}}},
     {"transform":[{"filter":"datum.dose=='4'"}],"mark":{"type":"bar","width":32,"stroke":"#eaa0a0","fill":{"gradient":"linear","x1":0,"y1":1,"x2":0.3563,"y2":-0.1925,"stops":[{"offset":0,"color":"#fff"},{"offset":0.02,"color":"#e25b5b"},{"offset":0.04,"color":"#fff"},{"offset":0.06,"color":"#e25b5b"},{"offset":0.08,"color":"#fff"},{"offset":0.1,"color":"#e25b5b"},{"offset":0.12,"color":"#fff"},{"offset":0.14,"color":"#e25b5b"},{"offset":0.16,"color":"#fff"},{"offset":0.18,"color":"#e25b5b"},{"offset":0.2,"color":"#fff"},{"offset":0.22,"color":"#e25b5b"},{"offset":0.24,"color":"#fff"},{"offset":0.26,"color":"#e25b5b"},{"offset":0.28,"color":"#fff"},{"offset":0.3,"color":"#e25b5b"},{"offset":0.32,"color":"#fff"},{"offset":0.34,"color":"#e25b5b"},{"offset":0.36,"color":"#fff"},{"offset":0.38,"color":"#e25b5b"},{"offset":0.4,"color":"#fff"},{"offset":0.42,"color":"#e25b5b"},{"offset":0.44,"color":"#fff"},{"offset":0.46,"color":"#e25b5b"},{"offset":0.48,"color":"#fff"},{"offset":0.5,"color":"#e25b5b"},{"offset":0.52,"color":"#fff"},{"offset":0.54,"color":"#e25b5b"},{"offset":0.56,"color":"#fff"},{"offset":0.58,"color":"#e25b5b"},{"offset":0.6,"color":"#fff"},{"offset":0.62,"color":"#e25b5b"},{"offset":0.64,"color":"#fff"},{"offset":0.66,"color":"#e25b5b"},{"offset":0.68,"color":"#fff"},{"offset":0.7,"color":"#e25b5b"},{"offset":0.72,"color":"#fff"},{"offset":0.74,"color":"#e25b5b"},{"offset":0.76,"color":"#fff"},{"offset":0.78,"color":"#e25b5b"},{"offset":0.8,"color":"#fff"},{"offset":0.82,"color":"#e25b5b"},{"offset":0.84,"color":"#fff"},{"offset":0.86,"color":"#e25b5b"},{"offset":0.88,"color":"#fff"},{"offset":0.9,"color":"#e25b5b"},{"offset":0.92,"color":"#fff"},{"offset":0.94,"color":"#e25b5b"},{"offset":0.96,"color":"#fff"},{"offset":0.98,"color":"#e25b5b"},{"offset":1,"color":"#fff"}]}}},
     {"mark":{"type":"rule","color":"#7f7f7f","xOffset":{"expr":"datum.dose=='Saline'?-14.5:0"}},"encoding":{"y2":{"field":"hi"}}},
     {"mark":{"type":"tick","orient":"horizontal","size":7,"thickness":1,"color":"#7f7f7f","xOffset":{"expr":"datum.dose=='Saline'?-14.5:0"}},"encoding":{"y":{"field":"hi","type":"quantitative"}}},
     {"transform":[{"filter":"datum.sig"}],"mark":{"type":"text","text":"*","font":"DejaVu Sans","fontSize":22,"fontWeight":"bold","color":"#ee1c25","baseline":"alphabetic","dy":-4},"encoding":{"y":{"field":"hi","type":"quantitative"}}},
     {"transform":[{"filter":"datum.dose=='4'"}],"mark":{"type":"bar","width":61.5,"color":"#d05050"},"encoding":{"y":{"datum":-5.588,"type":"quantitative"},"y2":{"datum":-5.94}}},
     {"transform":[{"filter":"datum.dose=='1'||datum.dose=='8'"}],"mark":{"type":"bar","width":49,"color":"#d05050","xOffset":{"expr":"datum.dose=='8'?-6:6.5"}},"encoding":{"y":{"datum":-5.588,"type":"quantitative"},"y2":{"datum":-5.94}}},
     {"transform":[{"filter":"datum.dose=='Saline'"}],"mark":{"type":"bar","width":33,"color":"#a6a6a6","xOffset":-14.5},"encoding":{"y":{"datum":-1.059,"type":"quantitative"},"y2":{"datum":-1.412}}},
     {"data":{"values":[{}]},"layer":[
      {"mark":{"type":"point","shape":"square","size":400,"filled":true,"fill":"#a4302e","stroke":"#c0c0c0","strokeWidth":1,"opacity":1,"xOffset":-9.5,"yOffset":10.5},"encoding":{"x":{"value":"width"},"y":{"value":0}}},
      {"mark":{"type":"text","text":"G","font":"Liberation Sans","fontSize":17,"fontWeight":"bold","color":"#ffffff","baseline":"middle","align":"center","dx":-9.5,"dy":11},"encoding":{"x":{"value":"width"},"y":{"value":0}}}
     ]}
    ]},
   {"width":346,"height":211,"title":{"text":"Head dip / edge sniff  ratio","dx":12},
    "data":{"values":[{"dose":"Saline","mean":1.26,"hi":1.4},{"dose":"1","mean":0.704,"hi":0.759,"sig":1},{"dose":"4","mean":0.525,"hi":0.565,"sig":1},{"dose":"8","mean":0.51,"hi":0.565,"sig":1}]},
    "encoding":{
     "x":{"field":"dose","type":"nominal","title":"FG 7142 (mg/kg)","scale":{"domain":["Saline","1","4","8"],"range":[58.3,315],"paddingInner":0,"paddingOuter":0.087,"align":1},
      "axis":{"offset":-38,"titleX":224,"titleColor":"#c0282d","labelColor":{"condition":{"test":"datum.value=='Saline'","value":"#555555"},"value":"#cc3330"},"labelFontSize":{"condition":{"test":"datum.value=='Saline'","value":10},"value":11},"labelOffset":{"condition":{"test":"datum.value=='Saline'","value":-14.5},"value":0},"labelPadding":{"condition":{"test":"datum.value=='Saline'","value":5},"value":2},"tickOpacity":{"condition":{"test":"datum.value=='1'","value":1},"value":0}}},
     "y":{"field":"mean","type":"quantitative","title":"mean ratio","scale":{"domain":[0,1.5],"range":[173,37],"nice":false},"axis":{"offset":-58.3,"titleX":-46.6,"labelExpr":"'' + datum.value","values":[0,0.25,0.5,0.75,1,1.25,1.5]}}},
    "layer":[
     {"transform":[{"filter":"datum.dose=='Saline'"}],"mark":{"type":"bar","width":32,"xOffset":-14.5,"stroke":"#a0a0a0","fill":{"gradient":"linear","x1":0,"y1":0,"x2":1,"y2":0,"stops":[{"offset":0,"color":"#fff"},{"offset":0.05,"color":"#c4c4c4"},{"offset":0.1,"color":"#fff"},{"offset":0.15,"color":"#c4c4c4"},{"offset":0.2,"color":"#fff"},{"offset":0.25,"color":"#c4c4c4"},{"offset":0.3,"color":"#fff"},{"offset":0.35,"color":"#c4c4c4"},{"offset":0.4,"color":"#fff"},{"offset":0.45,"color":"#c4c4c4"},{"offset":0.5,"color":"#fff"},{"offset":0.55,"color":"#c4c4c4"},{"offset":0.6,"color":"#fff"},{"offset":0.65,"color":"#c4c4c4"},{"offset":0.7,"color":"#fff"},{"offset":0.75,"color":"#c4c4c4"},{"offset":0.8,"color":"#fff"},{"offset":0.85,"color":"#c4c4c4"},{"offset":0.9,"color":"#fff"},{"offset":0.95,"color":"#c4c4c4"},{"offset":1,"color":"#fff"}]}}},
     {"transform":[{"filter":"datum.dose=='1'||datum.dose=='8'"}],"mark":{"type":"bar","width":32},"encoding":{"fill":{"condition":{"test":"datum.dose=='8'","value":"#a4302e"},"value":"#f2d6d6"},"stroke":{"condition":{"test":"datum.dose=='8'","value":"#8c2826"},"value":"#b4a4a4"}}},
     {"transform":[{"filter":"datum.dose=='4'"}],"mark":{"type":"bar","width":32,"stroke":"#eaa0a0","fill":{"gradient":"linear","x1":0,"y1":1,"x2":0.7743,"y2":-0.1518,"stops":[{"offset":0,"color":"#fff"},{"offset":0.03125,"color":"#e25b5b"},{"offset":0.0625,"color":"#fff"},{"offset":0.09375,"color":"#e25b5b"},{"offset":0.125,"color":"#fff"},{"offset":0.15625,"color":"#e25b5b"},{"offset":0.1875,"color":"#fff"},{"offset":0.21875,"color":"#e25b5b"},{"offset":0.25,"color":"#fff"},{"offset":0.28125,"color":"#e25b5b"},{"offset":0.3125,"color":"#fff"},{"offset":0.34375,"color":"#e25b5b"},{"offset":0.375,"color":"#fff"},{"offset":0.40625,"color":"#e25b5b"},{"offset":0.4375,"color":"#fff"},{"offset":0.46875,"color":"#e25b5b"},{"offset":0.5,"color":"#fff"},{"offset":0.53125,"color":"#e25b5b"},{"offset":0.5625,"color":"#fff"},{"offset":0.59375,"color":"#e25b5b"},{"offset":0.625,"color":"#fff"},{"offset":0.65625,"color":"#e25b5b"},{"offset":0.6875,"color":"#fff"},{"offset":0.71875,"color":"#e25b5b"},{"offset":0.75,"color":"#fff"},{"offset":0.78125,"color":"#e25b5b"},{"offset":0.8125,"color":"#fff"},{"offset":0.84375,"color":"#e25b5b"},{"offset":0.875,"color":"#fff"},{"offset":0.90625,"color":"#e25b5b"},{"offset":0.9375,"color":"#fff"},{"offset":0.96875,"color":"#e25b5b"},{"offset":1,"color":"#fff"}]}}},
     {"mark":{"type":"rule","color":"#7f7f7f","xOffset":{"expr":"datum.dose=='Saline'?-14.5:0"}},"encoding":{"y2":{"field":"hi"}}},
     {"mark":{"type":"tick","orient":"horizontal","size":7,"thickness":1,"color":"#7f7f7f","xOffset":{"expr":"datum.dose=='Saline'?-14.5:0"}},"encoding":{"y":{"field":"hi","type":"quantitative"}}},
     {"transform":[{"filter":"datum.sig"}],"mark":{"type":"text","text":"*","font":"DejaVu Sans","fontSize":22,"fontWeight":"bold","color":"#ee1c25","baseline":"alphabetic","dy":-4},"encoding":{"y":{"field":"hi","type":"quantitative"}}},
     {"transform":[{"filter":"datum.dose=='4'"}],"mark":{"type":"bar","width":61.5,"color":"#d05050"},"encoding":{"y":{"datum":-0.2096,"type":"quantitative"},"y2":{"datum":-0.2228}}},
     {"transform":[{"filter":"datum.dose=='1'||datum.dose=='8'"}],"mark":{"type":"bar","width":49,"color":"#d05050","xOffset":{"expr":"datum.dose=='8'?-6:6.5"}},"encoding":{"y":{"datum":-0.2096,"type":"quantitative"},"y2":{"datum":-0.2228}}},
     {"transform":[{"filter":"datum.dose=='Saline'"}],"mark":{"type":"bar","width":33,"color":"#a6a6a6","xOffset":-14.5},"encoding":{"y":{"datum":-0.0397,"type":"quantitative"},"y2":{"datum":-0.0529}}},
     {"data":{"values":[{}]},"layer":[
      {"mark":{"type":"point","shape":"square","size":400,"filled":true,"fill":"#a4302e","stroke":"#c0c0c0","strokeWidth":1,"opacity":1,"xOffset":-9.5,"yOffset":10.5},"encoding":{"x":{"value":"width"},"y":{"value":0}}},
      {"mark":{"type":"text","text":"H","font":"Liberation Sans","fontSize":17,"fontWeight":"bold","color":"#ffffff","baseline":"middle","align":"center","dx":-9.5,"dy":11},"encoding":{"x":{"value":"width"},"y":{"value":0}}}
     ]}
    ]}
  ]}
 ]}
]}
]
}
